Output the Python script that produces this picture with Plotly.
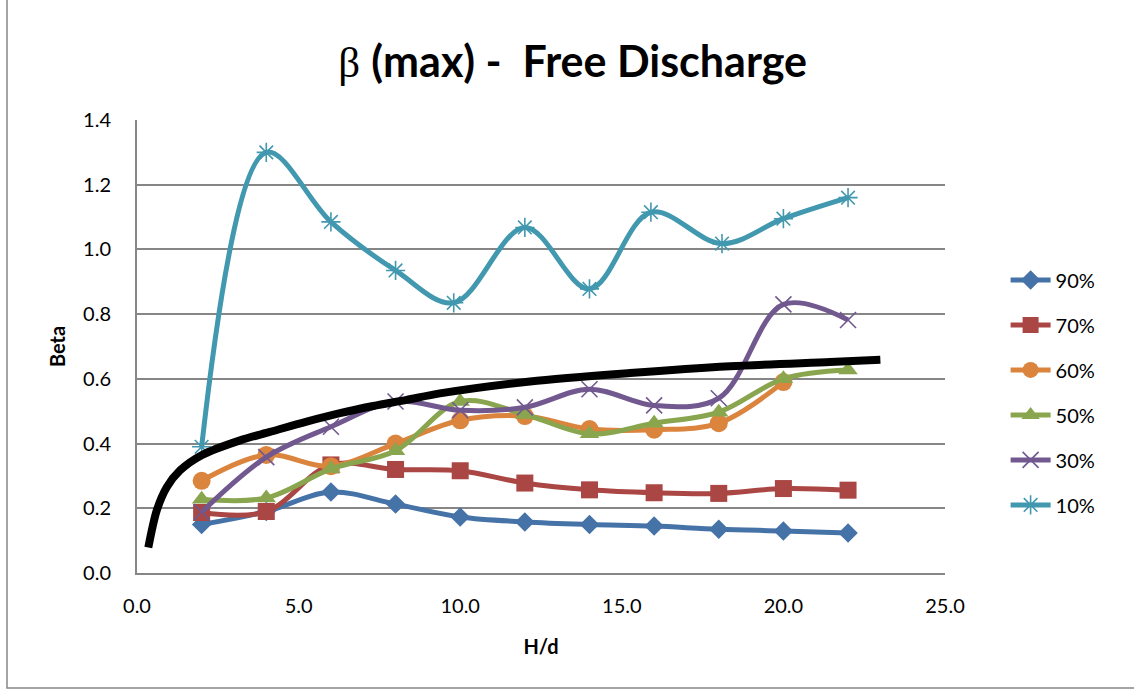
import plotly.graph_objects as go

# ---- data ----
x_even = [2, 4, 6, 8, 10, 12, 14, 16, 18, 20, 22]
x_10 = [2, 4, 6, 8, 9.8, 12, 14, 15.9, 18.1, 20, 22]

s90 = [0.150, 0.190, 0.250, 0.213, 0.173, 0.158, 0.150, 0.145, 0.135, 0.130, 0.124]
s70 = [0.187, 0.190, 0.334, 0.320, 0.316, 0.278, 0.257, 0.248, 0.246, 0.261, 0.256]
s60 = [0.285, 0.365, 0.330, 0.400, 0.472, 0.485, 0.445, 0.443, 0.463, 0.590]
s50 = [0.228, 0.232, 0.322, 0.378, 0.530, 0.490, 0.430, 0.463, 0.497, 0.600, 0.627]
s30 = [0.188, 0.358, 0.452, 0.530, 0.503, 0.512, 0.568, 0.518, 0.540, 0.830, 0.782]
s10 = [0.390, 1.300, 1.085, 0.935, 0.835, 1.068, 0.878, 1.115, 1.018, 1.095, 1.160]

curve_x = [0.35, 0.61, 0.92, 1.33, 2.0, 3.19, 4.11, 5.25, 6.28, 7.31, 8.34, 9.37, 12.16, 15.25, 18.35, 21.44, 23.0]
curve_y = [0.079, 0.193, 0.265, 0.317, 0.364, 0.41, 0.436, 0.468, 0.494, 0.516, 0.535, 0.555, 0.592, 0.618, 0.639, 0.652, 0.659]

names = ["90%", "70%", "60%", "50%", "30%", "10%"]
colors = ["#4572A7", "#AA4643", "#DB843D", "#89A54E", "#71588F", "#4198AF"]
symbols = ["diamond", "square", "circle", "triangle-up", "x-thin-open", "asterisk-open"]
sizes = [15, 17, 18, 17, 16, 16]
xs = [x_even, x_even, x_even[:len(s60)], x_even, x_even, x_10]
ys = [s90, s70, s60, s50, s30, s10]

FONT = "Lato, 'Liberation Sans', sans-serif"

fig = go.Figure()
for n, c, sym, sz, xv, yv in zip(names, colors, symbols, sizes, xs, ys):
    open_sym = sym.endswith("open")
    fig.add_trace(go.Scatter(
        x=xv, y=yv, name=n, mode="lines+markers",
        line=dict(color=c, width=5, shape="spline", smoothing=1),
        marker=dict(symbol=sym, size=sz, color=c,
                    line=dict(color=c, width=1.6 if open_sym else 0)),
        legendgroup=n,
    ))

fig.add_trace(go.Scatter(
    x=curve_x, y=curve_y, mode="lines", showlegend=False,
    line=dict(color="black", width=8, shape="spline", smoothing=0.8),
    hoverinfo="skip",
))

grid = "#868686"
fig.update_layout(
    width=1134, height=691,
    margin=dict(l=137, r=189, t=120, b=118),
    paper_bgcolor="white", plot_bgcolor="white",
    font=dict(family=FONT, color="black", size=20),
    title=dict(
        text="<span style='font-family:Liberation Serif;font-weight:normal'>β</span> <b>(max) - \u00a0Free Discharge</b>",
        x=0.505, xanchor="center", y=0.91, yanchor="middle",
        font=dict(size=43, family=FONT, color="black"),
    ),
    xaxis=dict(
        range=[0, 25], dtick=5, tickformat=".1f", showgrid=False,
        showline=True, linecolor=grid, linewidth=2, ticks="",
        zeroline=False, ticklabelstandoff=14,
        title=dict(text="<b>H/d</b>", font=dict(size=20), standoff=24),
    ),
    yaxis=dict(
        range=[0, 1.4], dtick=0.2, tickformat=".1f", showgrid=True,
        gridcolor=grid, gridwidth=1.5, showline=True, linecolor=grid,
        linewidth=2, ticks="", zeroline=False, ticklabelstandoff=20,
        title=dict(text="<b>Beta</b>", font=dict(size=20), standoff=12),
    ),
    legend=dict(
        x=1.075, xanchor="left", y=0.69, yanchor="top",
        font=dict(size=20), tracegroupgap=16, bgcolor="rgba(0,0,0,0)",
        itemwidth=40,
    ),
    shapes=[dict(
        type="rect", xref="paper", yref="paper",
        x0=(7 - 137) / 808, x1=1.3, y0=(573 - 688) / 453, y1=1.4,
        line=dict(color=grid, width=1.5), fillcolor="rgba(0,0,0,0)",
        layer="below",
    )],
)

fig.write_html("out.html", config={"displayModeBar": False},
               post_script="document.body.style.margin='0px';")
